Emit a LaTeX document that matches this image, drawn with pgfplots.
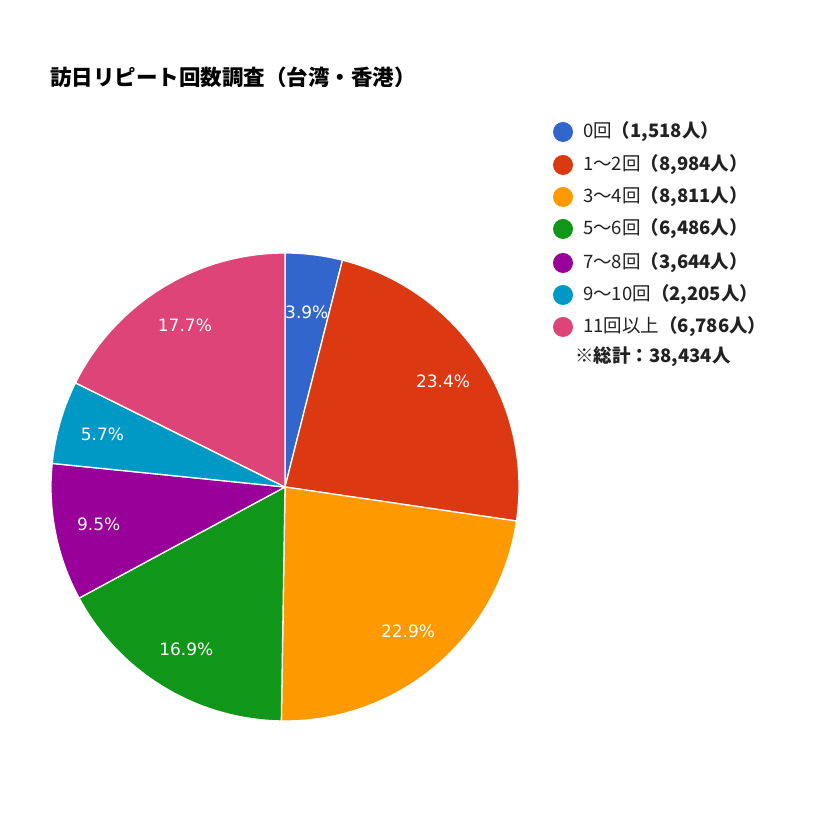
\documentclass[border=0pt]{standalone}
\usepackage{pgfplots}
\pgfplotsset{compat=1.18}
\usepackage{pgfplotstable}
\usepackage{fontspec}
\setmainfont{Liberation Sans}
\newfontfamily\jp{Noto Sans CJK JP}
\newfontfamily\lbl{DejaVu Sans}
\definecolor{c0}{HTML}{3366CC}
\definecolor{c1}{HTML}{DC3912}
\definecolor{c2}{HTML}{FF9900}
\definecolor{c3}{HTML}{109618}
\definecolor{c4}{HTML}{990099}
\definecolor{c5}{HTML}{0099C6}
\definecolor{c6}{HTML}{DD4477}
\pgfplotstableread{
idx value pct color lr
0 1518 3.9 c0 176
1 8984 23.4 c1 190
2 8811 22.9 c2 190
3 6486 16.9 c3 190
4 3644 9.5 c4 190
5 2205 5.7 c5 190
6 6786 17.7 c6 190
}\piedata
\newcommand\pielabelfont{\lbl\fontsize{17pt}{19pt}\selectfont}
\begin{document}
\begin{tikzpicture}
\useasboundingbox (0,0) rectangle (840pt,840pt);
\begin{axis}[
  at={(0,0)}, anchor=south west,
  x=1pt, y=1pt, xmin=0, xmax=840, ymin=0, ymax=840,
  hide axis, clip=false, scale only axis,
]
% degrees per 1000 persons: 360/38.434
\def\pieStartAng{90}
\pgfplotsforeachungrouped \i in {0,...,6}{%
  \pgfplotstablegetelem{\i}{value}\of\piedata \let\pieVal\pgfplotsretval
  \pgfplotstablegetelem{\i}{color}\of\piedata \let\pieCol\pgfplotsretval
  \pgfplotstablegetelem{\i}{pct}\of\piedata \let\piePct\pgfplotsretval
  \pgfplotstablegetelem{\i}{lr}\of\piedata \let\pieLr\pgfplotsretval
  \pgfmathsetmacro\pieSweep{(\pieVal/1000)*9.36671}%
  \pgfmathsetmacro\pieEndAng{\pieStartAng-\pieSweep}%
  \pgfmathsetmacro\pieMidAng{\pieStartAng-\pieSweep/2}%
  \edef\temp{\noexpand\fill[\pieCol, draw=white, line width=1.3pt, line join=round]
     (axis cs:285,353) -- ++(\pieStartAng:234pt) arc[start angle=\pieStartAng, delta angle=-\pieSweep, radius=234pt] -- cycle;
     \noexpand\node[text=white, font=\noexpand\pielabelfont] at ([shift={(\pieMidAng:\pieLr pt)}]axis cs:285,353) {\piePct\noexpand\%};}%
  \temp
  \let\pieStartAng\pieEndAng
}
\end{axis}
\node[anchor=west, inner sep=0pt, font=\jp\bfseries\fontsize{21.5pt}{24pt}\selectfont] at (50pt,763pt) {訪日リピート回数調査（台湾・香港）};
\foreach \y/\c/\a/\b in {132/c0/{0回}/{1,518},165/c1/{1〜2回}/{8,984},197/c2/{3〜4回}/{8,811},229/c3/{5〜6回}/{6,486},263/c4/{7〜8回}/{3,644},295/c5/{9〜10回}/{2,205},327/c6/{11回以上}/{6,786}}{
  \fill[\c] (563pt,{(840-\y)*1pt}) circle (10pt);
  \node[anchor=west, inner sep=0pt, font=\jp\fontsize{18.5pt}{20pt}\selectfont, text=black!87] at (583pt,{(840-\y)*1pt}) {\a{\bfseries （\b 人）}};
}
\node[anchor=west, inner sep=0pt, font=\jp\bfseries\fontsize{18.5pt}{20pt}\selectfont, text=black!87] at (575pt,483pt) {※総計：38,434人};
\end{tikzpicture}
\end{document}
